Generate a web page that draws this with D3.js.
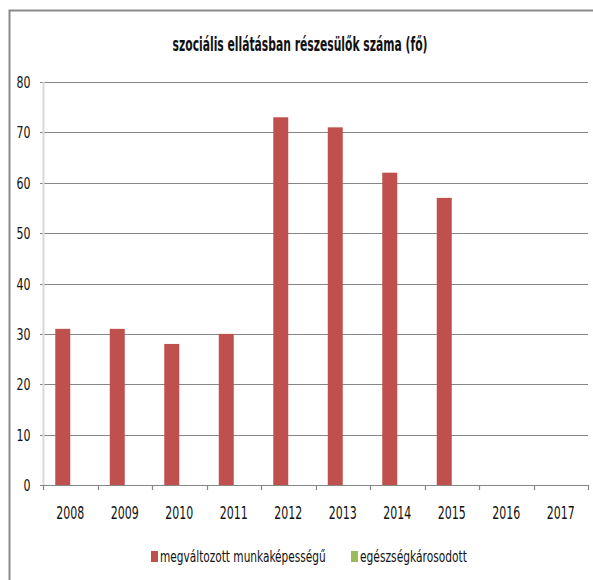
<!DOCTYPE html>
<html>
<head>
<meta charset="utf-8">
<script src="https://cdn.jsdelivr.net/npm/d3@7"></script>
<style>
  body { margin: 0; background: #fff; }
  svg { display: block; }
  text { font-family: "DejaVu Sans Condensed", "Liberation Sans Narrow", "Open Sans", sans-serif; fill: #111; }
</style>
</head>
<body>
<div id="chart"></div>
<script>
var years = ['2008', '2009', '2010', '2011', '2012', '2013', '2014', '2015', '2016', '2017'];
var seriesNames = ['megváltozott munkaképességű', 'egészségkárosodott'];
var seriesColors = ['#C0504D', '#9BBB59'];
var munkakepesseg = [31, 31, 28, 30, 73, 71, 62, 57, 0, 0];
var egeszseg = [0, 0, 0, 0, 0, 0, 0, 0, 0, 0];
var yTicks = [0, 10, 20, 30, 40, 50, 60, 70, 80];
var title = 'szociális ellátásban részesülők száma (fő)';

var width = 593, height = 580;
var plot = { left: 43, right: 588, top: 82, bottom: 485 };

var svg = d3.select('#chart').append('svg')
  .attr('width', width)
  .attr('height', height);

// squeeze a text horizontally to a target width (the reference font is condensed)
function squeeze(sel, x, y, w) {
  sel.each(function(d, i) {
    var tx = typeof x === 'function' ? x(d, i) : x;
    var tw = typeof w === 'function' ? w(d, i) : w;
    var natural = this.getComputedTextLength();
    d3.select(this)
      .attr('x', 0)
      .attr('y', 0)
      .attr('transform', 'translate(' + tx + ',' + y + ') scale(' + (tw / natural) + ',1)');
  });
}

// outer frame (only top and left edges visible in the crop)
svg.append('path')
  .attr('d', 'M9.5,' + height + 'V10.5H' + width)
  .attr('fill', 'none')
  .attr('stroke', '#8a8a8a')
  .attr('stroke-width', 2);

svg.append('text')
  .attr('text-anchor', 'middle')
  .attr('font-size', 19)
  .attr('font-weight', 'bold')
  .text(title)
  .call(squeeze, 300, 51, 255);

var xScale = d3.scaleBand()
  .domain(years)
  .range([plot.left, plot.right]);

var xInner = d3.scaleBand()
  .domain(seriesNames)
  .range([0, xScale.bandwidth()])
  .paddingOuter(0.817);

var yScale = d3.scaleLinear()
  .domain([0, 80])
  .range([plot.bottom, plot.top]);

// gridlines
var grid = svg.append('g').attr('class', 'grid');
grid.selectAll('line')
  .data(yTicks)
  .enter().append('line')
  .attr('x1', plot.left - 3)
  .attr('x2', plot.right)
  .attr('y1', function(d) { return Math.round(yScale(d)) + 0.5; })
  .attr('y2', function(d) { return Math.round(yScale(d)) + 0.5; })
  .attr('stroke', '#868686')
  .attr('stroke-width', 1.2);

// light vertical axis line
svg.append('line')
  .attr('x1', plot.left + 0.5)
  .attr('x2', plot.left + 0.5)
  .attr('y1', plot.top)
  .attr('y2', plot.bottom)
  .attr('stroke', '#d9d9d9')
  .attr('stroke-width', 2);

// y labels
var yLabels = svg.append('g').selectAll('text')
  .data(yTicks)
  .enter().append('text')
  .attr('text-anchor', 'end')
  .attr('font-size', 16)
  .text(function(d) { return d; });
yLabels.each(function(d) {
  d3.select(this).call(squeeze, 30.5, Math.round(yScale(d)) + 6, String(d).length * 7);
});

// bars
var series = [munkakepesseg, egeszseg];
var barData = [];
years.forEach(function(year, i) {
  series.forEach(function(values, s) {
    barData.push({ year: year, name: seriesNames[s], value: values[i], color: seriesColors[s] });
  });
});

svg.append('g').attr('class', 'bars')
  .selectAll('rect')
  .data(barData.filter(function(d) { return d.value > 0; }))
  .enter().append('rect')
  .attr('x', function(d) { return xScale(d.year) + xInner(d.name); })
  .attr('width', xInner.bandwidth())
  .attr('y', function(d) { return yScale(d.value); })
  .attr('height', function(d) { return yScale(0) - yScale(d.value); })
  .attr('fill', function(d) { return d.color; });

// x axis: baseline redrawn over bars, category ticks between bands
var boundaries = years.map(function(y) { return xScale(y); }).concat([plot.right]);
svg.append('line')
  .attr('x1', plot.left - 3)
  .attr('x2', plot.right)
  .attr('y1', plot.bottom + 0.5)
  .attr('y2', plot.bottom + 0.5)
  .attr('stroke', '#868686')
  .attr('stroke-width', 1.2);
svg.append('g').selectAll('line')
  .data(boundaries)
  .enter().append('line')
  .attr('x1', function(d) { return Math.round(d) + 0.5; })
  .attr('x2', function(d) { return Math.round(d) + 0.5; })
  .attr('y1', plot.bottom)
  .attr('y2', plot.bottom + 5)
  .attr('stroke', '#868686')
  .attr('stroke-width', 1.2);

svg.append('g').selectAll('text')
  .data(years)
  .enter().append('text')
  .attr('text-anchor', 'middle')
  .attr('font-size', 18)
  .text(function(d) { return d; })
  .call(squeeze, function(d) { return xScale(d) + xScale.bandwidth() / 2; }, 519, 28);

// legend
var legendItems = [
  { name: seriesNames[0], color: seriesColors[0], x: 151, w: 166 },
  { name: seriesNames[1], color: seriesColors[1], x: 351, w: 107 }
];
var legend = svg.append('g').selectAll('g')
  .data(legendItems)
  .enter().append('g')
  .attr('transform', function(d) { return 'translate(' + d.x + ',0)'; });
legend.append('rect')
  .attr('x', 0)
  .attr('y', 551)
  .attr('width', 7)
  .attr('height', 11)
  .attr('fill', function(d) { return d.color; });
legend.append('text')
  .attr('font-size', 16)
  .text(function(d) { return d.name; })
  .call(squeeze, 9, 562, function(d) { return d.w; });
</script>
</body>
</html>
